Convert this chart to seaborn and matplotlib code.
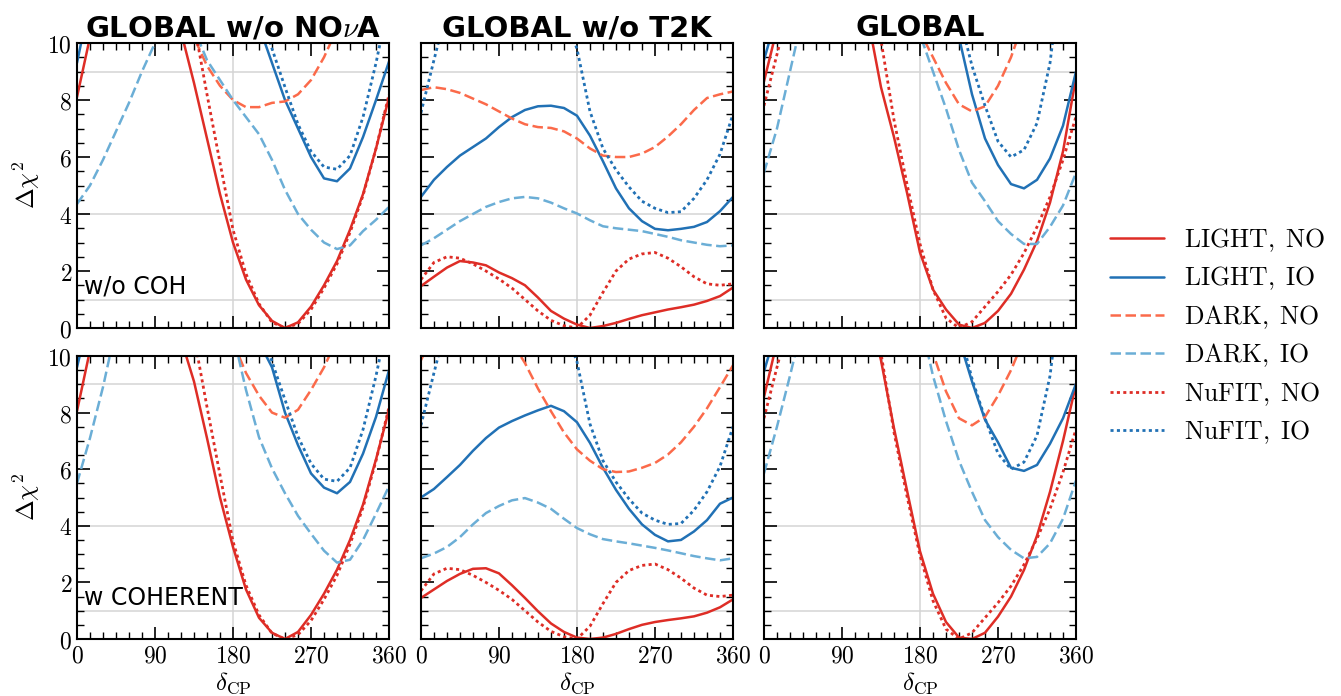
import matplotlib
matplotlib.use("Agg")
import matplotlib.pyplot as plt
import seaborn as sns
from matplotlib.ticker import MultipleLocator, FuncFormatter
from matplotlib.lines import Line2D

delta_cp = [0, 15, 30, 45, 60, 75, 90, 105, 120, 135, 150, 165, 180,
            195, 210, 225, 240, 255, 270, 285, 300, 315, 330, 345, 360]

# GLOBAL w/o NOvA, w/o COH
light_no_nova_noc = [8.1, 10.2, 13, 15, 16, 16, 15, 13, 10.4, 8.6, 6.65, 4.7, 3.0, 1.7, 0.8, 0.25, 0.0, 0.2, 0.75, 1.5, 2.35, 3.45, 4.7, 6.3, 8.1]
light_io_nova_noc = [9.3, 11.5, 14, 16, 17, 18, 18, 18, 17.5, 16, 14.5, 12.8, 11.8, 11.2, 10.6, 9.3, 8.0, 7.0, 6.0, 5.25, 5.15, 5.6, 6.7, 8.0, 9.35]
dark_no_nova_noc = [12, 13, 14, 15, 15, 15, 14, 12.5, 11.2, 10.2, 9.2, 8.5, 8.0, 7.75, 7.75, 7.9, 7.95, 8.2, 8.7, 9.5, 10.5, 12, 13.5, 15, 16]
dark_io_nova_noc = [4.35, 5.0, 5.9, 6.9, 7.9, 9.0, 10.0, 11, 11.5, 10.5, 9.4, 8.7, 8.0, 7.4, 6.8, 5.9, 4.85, 4.0, 3.45, 3.0, 2.77, 2.9, 3.4, 3.8, 4.25]

# GLOBAL w/o T2K, w/o COH
light_no_t2k_noc = [1.47, 1.8, 2.12, 2.35, 2.3, 2.2, 1.95, 1.75, 1.5, 1.07, 0.6, 0.33, 0.12, 0.0, 0.07, 0.18, 0.32, 0.45, 0.55, 0.65, 0.73, 0.82, 0.95, 1.12, 1.42]
light_io_t2k_noc = [4.6, 5.2, 5.65, 6.05, 6.35, 6.65, 7.05, 7.4, 7.65, 7.78, 7.8, 7.72, 7.45, 6.75, 5.85, 4.9, 4.2, 3.75, 3.48, 3.43, 3.48, 3.55, 3.72, 4.1, 4.6]
dark_no_t2k_noc = [8.35, 8.45, 8.38, 8.25, 8.05, 7.85, 7.6, 7.35, 7.15, 7.05, 7.02, 6.9, 6.65, 6.3, 6.05, 6.0, 6.0, 6.12, 6.35, 6.72, 7.15, 7.65, 8.07, 8.2, 8.3]
dark_io_t2k_noc = [2.9, 3.15, 3.45, 3.75, 4.0, 4.25, 4.42, 4.55, 4.6, 4.55, 4.4, 4.2, 4.02, 3.78, 3.57, 3.5, 3.45, 3.4, 3.3, 3.2, 3.08, 3.0, 2.92, 2.87, 2.9]

# GLOBAL, w/o COH
light_no_glob_noc = [8.65, 10.5, 13, 15, 16, 16, 15, 13, 10.85, 8.45, 6.7, 4.75, 2.65, 1.35, 0.65, 0.12, 0.0, 0.18, 0.6, 1.2, 2.05, 3.05, 4.4, 6.2, 8.8]
light_io_glob_noc = [9.4, 11, 13, 15, 16, 17, 17, 17, 16.5, 15.5, 14.5, 13.5, 12.8, 12.2, 11.5, 10.2, 8.2, 6.65, 5.72, 5.05, 4.9, 5.2, 5.95, 7.1, 9.0]
dark_no_glob_noc = [14, 15, 16, 16, 16, 16, 16, 15.5, 15, 14, 13, 11.8, 10.4, 9.5, 8.6, 7.85, 7.6, 7.78, 8.5, 9.5, 10.8, 12, 13, 14, 15]
dark_io_glob_noc = [5.45, 7.0, 9.0, 11, 12.5, 13.5, 14, 14, 13.5, 13, 12, 11, 10.3, 9.0, 7.7, 6.25, 5.1, 4.45, 3.75, 3.3, 2.95, 2.95, 3.55, 4.3, 5.45]

# GLOBAL w/o NOvA, w COHERENT
light_no_nova_coh = [8.05, 10.2, 13, 15, 16, 16, 15, 13, 10.6, 9.1, 7.1, 5.0, 3.25, 1.75, 0.75, 0.22, 0.0, 0.25, 0.85, 1.6, 2.45, 3.5, 4.75, 6.35, 8.1]
light_io_nova_coh = [9.6, 11.5, 14, 16, 17, 18, 18, 18, 17.5, 16, 14.5, 12.8, 11.8, 11.2, 10.5, 9.6, 8.0, 6.85, 5.85, 5.35, 5.15, 5.55, 6.55, 7.85, 9.5]
dark_no_nova_coh = [14, 15, 16, 16, 16, 16, 15.5, 14.5, 13.5, 12.5, 11.5, 11, 10.5, 9.4, 8.6, 8.0, 7.82, 8.1, 8.8, 9.6, 10.6, 12, 13.5, 15, 16]
dark_io_nova_coh = [5.5, 7.1, 8.9, 11, 12.5, 13.5, 14, 14, 13.5, 13, 12.5, 11.8, 10.8, 8.8, 7.13, 6.03, 5.15, 4.35, 3.72, 3.12, 2.7, 2.8, 3.5, 4.43, 5.4]

# GLOBAL w/o T2K, w COHERENT
light_no_t2k_coh = [1.45, 1.75, 2.05, 2.3, 2.48, 2.5, 2.32, 1.9, 1.45, 0.98, 0.55, 0.25, 0.05, 0.0, 0.05, 0.18, 0.35, 0.5, 0.6, 0.67, 0.73, 0.8, 0.93, 1.12, 1.4]
light_io_t2k_coh = [5.0, 5.3, 5.72, 6.15, 6.65, 7.1, 7.47, 7.7, 7.9, 8.08, 8.24, 8.05, 7.66, 6.93, 6.05, 5.27, 4.6, 4.05, 3.68, 3.45, 3.5, 3.8, 4.2, 4.78, 5.0]
dark_no_t2k_coh = [9.85, 10.8, 11.4, 11.7, 11.7, 11.5, 11.0, 10.5, 9.75, 8.85, 8.05, 7.3, 6.7, 6.3, 6.0, 5.9, 5.92, 6.05, 6.22, 6.52, 6.95, 7.5, 8.15, 8.9, 9.67]
dark_io_t2k_coh = [2.85, 3.02, 3.25, 3.6, 4.05, 4.45, 4.7, 4.9, 4.98, 4.82, 4.6, 4.25, 3.92, 3.7, 3.53, 3.45, 3.38, 3.3, 3.22, 3.13, 3.03, 2.93, 2.85, 2.78, 2.85]

# GLOBAL, w COHERENT
light_no_glob_coh = [8.55, 10.5, 13, 15, 16, 16, 15, 13.5, 11.8, 9.85, 7.45, 5.25, 3.1, 1.6, 0.6, 0.05, 0.0, 0.22, 0.79, 1.5, 2.44, 3.65, 5.2, 7.0, 9.0]
light_io_glob_coh = [9.45, 11, 13, 15, 16, 17, 17, 17, 16.5, 15.5, 14.5, 13.5, 12.8, 12.2, 11.6, 10.6, 9.1, 7.75, 6.95, 6.05, 5.94, 6.15, 6.9, 7.8, 9.02]
dark_no_glob_coh = [14, 15, 16, 16, 16, 16, 16, 15.5, 15, 14, 13, 12, 11.4, 10.1, 8.75, 7.8, 7.55, 7.85, 8.6, 9.5, 10.6, 12, 13, 14, 15]
dark_io_glob_coh = [5.85, 7.5, 9.3, 11.2, 12.5, 13.5, 14, 14, 13.5, 13, 12.5, 12, 11.3, 9.3, 7.7, 6.3, 5.2, 4.2, 3.6, 3.15, 2.85, 2.9, 3.38, 4.25, 5.6]

# NuFIT reference curves (same in both rows of a column)
nufit_no_nova = [14, 15, 16, 17, 17, 17, 16.5, 15, 13, 10.7, 8.2, 5.8, 3.45, 1.9, 0.85, 0.2, 0.0, 0.15, 0.65, 1.4, 2.25, 3.35, 4.65, 6.3, 8.2]
nufit_io_nova = [13, 14, 15, 16, 17, 17.5, 18, 18, 17.5, 16.5, 15.5, 14.5, 13.5, 12.5, 11.3, 9.8, 8.45, 7.15, 6.2, 5.65, 5.57, 6.05, 7.4, 9.3, 11.5]
nufit_no_t2k = [1.7, 2.3, 2.5, 2.45, 2.25, 2.0, 1.72, 1.4, 1.0, 0.6, 0.27, 0.08, 0.0, 0.45, 1.25, 2.0, 2.42, 2.6, 2.65, 2.45, 2.15, 1.8, 1.55, 1.5, 1.55]
nufit_io_t2k = [7.55, 9.4, 11.2, 13, 14, 14.5, 14.5, 14, 13.3, 12.5, 11.8, 11, 9.8, 7.6, 6.3, 5.55, 4.95, 4.45, 4.2, 4.05, 4.08, 4.55, 5.2, 6.1, 7.5]
nufit_no_glob = [7.8, 9.6, 11.4, 13, 14, 14.5, 14.5, 14, 12.2, 10.1, 7.3, 5.05, 2.95, 1.35, 0.35, 0.0, 0.22, 0.75, 1.28, 1.87, 2.63, 3.55, 4.6, 5.9, 7.42]
nufit_io_glob = [11, 12.5, 14, 15, 16, 17, 17, 17, 16.5, 16, 15, 14.5, 13.8, 13, 12.3, 11, 9.2, 7.8, 6.55, 6.0, 6.25, 7.19, 9.3, 13, 16]

col_titles = [r"GLOBAL w/o NO$\nu$A", "GLOBAL w/o T2K", "GLOBAL"]
row_texts = ["w/o COH", "w COHERENT"]
labels = ["LIGHT, NO", "LIGHT, IO", "DARK, NO", "DARK, IO", "NuFIT, NO", "NuFIT, IO"]

panels = [
    [[light_no_nova_noc, light_io_nova_noc, dark_no_nova_noc, dark_io_nova_noc, nufit_no_nova, nufit_io_nova],
     [light_no_t2k_noc, light_io_t2k_noc, dark_no_t2k_noc, dark_io_t2k_noc, nufit_no_t2k, nufit_io_t2k],
     [light_no_glob_noc, light_io_glob_noc, dark_no_glob_noc, dark_io_glob_noc, nufit_no_glob, nufit_io_glob]],
    [[light_no_nova_coh, light_io_nova_coh, dark_no_nova_coh, dark_io_nova_coh, nufit_no_nova, nufit_io_nova],
     [light_no_t2k_coh, light_io_t2k_coh, dark_no_t2k_coh, dark_io_t2k_coh, nufit_no_t2k, nufit_io_t2k],
     [light_no_glob_coh, light_io_glob_coh, dark_no_glob_coh, dark_io_glob_coh, nufit_no_glob, nufit_io_glob]],
]

RED, BLUE, SALMON, LBLUE = "#de2d26", "#2171b5", "#fb6a4a", "#6baed6"
DASH = (0, (4.2, 1.8))
DOT = (0, (1.1, 1.2))
styles = [(RED, "-", 1.8), (BLUE, "-", 1.8), (SALMON, DASH, 1.8),
          (LBLUE, DASH, 1.8), (RED, DOT, 2.0), (BLUE, DOT, 2.0)]

sns.set_theme(style="ticks")
plt.rcParams["font.family"] = ["DejaVu Sans"]
plt.rcParams["mathtext.fontset"] = "cm"
for key in ("text.color", "axes.labelcolor", "xtick.color", "ytick.color"):
    plt.rcParams[key] = "black"

fig = plt.figure(figsize=(13.41, 6.96), dpi=100)
lefts = [0.0574, 0.3139, 0.5697]
bottoms = [0.5287, 0.0819]
heights = [0.4095, 0.4066]
width = 0.2327
fmt = FuncFormatter(lambda v, p: f"${v:g}$")

for r in range(2):
    for c in range(3):
        ax = fig.add_axes([lefts[c], bottoms[r], width, heights[r]])
        for y in (1, 4, 9):
            ax.axhline(y, color="#d4d4d4", lw=1.1, zorder=0)
        ax.axvline(180, color="#d4d4d4", lw=1.1, zorder=0)
        for vals, (col, ls, lw) in zip(panels[r][c], styles):
            sns.lineplot(x=delta_cp, y=vals, ax=ax, color=col, linestyle=ls,
                         lw=lw, legend=False)
        ax.set_xlim(0, 360)
        ax.set_ylim(0, 10)
        ax.xaxis.set_major_locator(MultipleLocator(90))
        ax.xaxis.set_minor_locator(MultipleLocator(15))
        ax.yaxis.set_major_locator(MultipleLocator(2))
        ax.yaxis.set_minor_locator(MultipleLocator(0.5))
        ax.xaxis.set_major_formatter(fmt)
        ax.yaxis.set_major_formatter(fmt)
        ax.tick_params(which="both", direction="in", top=True, right=True,
                       labelsize=17, color="black")
        ax.tick_params(which="major", length=9, width=1.2)
        ax.tick_params(which="minor", length=5, width=1.0)
        for s in ax.spines.values():
            s.set_color("black")
            s.set_linewidth(1.5)
        ax.set_xlabel("")
        ax.set_ylabel("")
        if c == 0:
            ax.set_ylabel(r"$\Delta\chi^2$", fontsize=18, labelpad=4)
            ax.text(0.022, 0.12, row_texts[r], transform=ax.transAxes,
                    fontsize=17, va="baseline", ha="left")
        else:
            ax.tick_params(labelleft=False)
        if r == 0:
            ax.set_title(col_titles[c], fontsize=21, fontweight="bold", pad=5)
            ax.tick_params(labelbottom=False)
        else:
            ax.set_xlabel(r"$\delta_{\rm CP}$", fontsize=18, labelpad=2)

handles = [Line2D([], [], color=col, linestyle=ls, lw=lw) for col, ls, lw in styles]
leg_labels = [r"$\mathrm{" + s.replace(" ", r"\;") + "}$" for s in labels]
fig.legend(handles, leg_labels, loc="center left", bbox_to_anchor=(0.828, 0.517),
           frameon=False, fontsize=18.5, handlelength=2.1, handletextpad=0.75,
           labelspacing=0.42, borderpad=0, borderaxespad=0)

fig.savefig("out.png", dpi=100)
